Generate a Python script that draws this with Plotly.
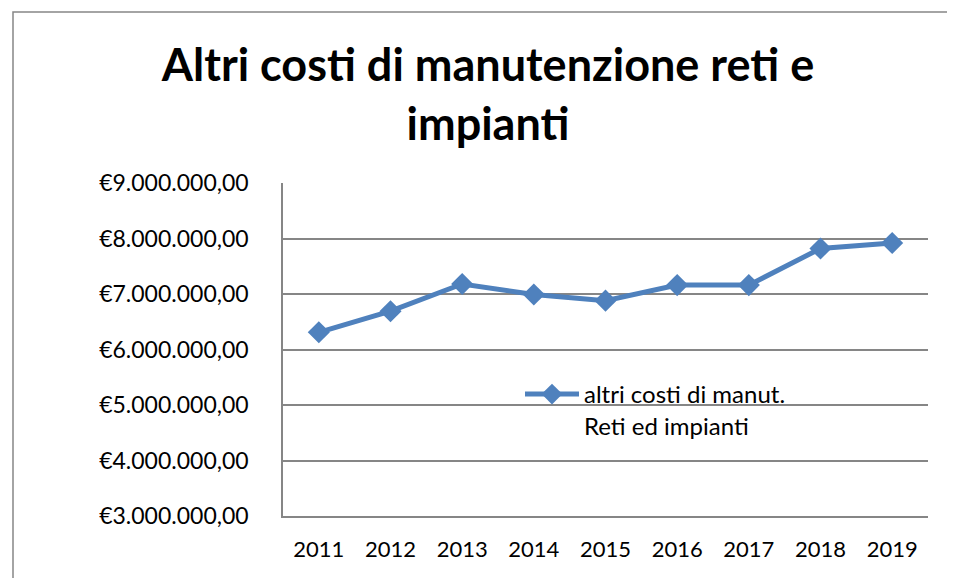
import plotly.graph_objects as go

years = ["2011", "2012", "2013", "2014", "2015", "2016", "2017", "2018", "2019"]
values = [6310000, 6690000, 7180000, 6990000, 6880000, 7160000, 7160000, 7820000, 7920000]
tick_vals = [3000000, 4000000, 5000000, 6000000, 7000000, 8000000, 9000000]
tick_text = ["€3.000.000,00", "€4.000.000,00", "€5.000.000,00", "€6.000.000,00",
             "€7.000.000,00", "€8.000.000,00", "€9.000.000,00"]
series_name = "altri costi di manut.<br>Reti ed impianti"
title_text = "<b>Altri costi di manutenzione reti e<br>impianti</b>"

# page body has an 8px margin; figure coordinates are screen - 8
OFF = 8
W, H = 955 - OFF, 578 - OFF
L, R, T, B = 283 - OFF, 27, 183 - OFF, 62
pw, ph = W - L - R, H - T - B

def px_x(p):
    return (p - OFF - L) / pw

def px_y(p):
    return (H - B - (p - OFF)) / ph

fig = go.Figure()
fig.add_trace(go.Scatter(
    x=years, y=values, mode="lines+markers", name=series_name,
    line=dict(color="#4F81BD", width=5),
    marker=dict(symbol="diamond", size=17, color="#4F81BD"),
))

fig.update_layout(
    width=W, height=H,
    margin=dict(l=L, r=R, t=T, b=B),
    paper_bgcolor="white", plot_bgcolor="white",
    font=dict(family="Lato", size=22, color="black"),
    title=dict(text=title_text, x=(488 - OFF) / W, xanchor="center", xref="container",
               y=1 - 73 / H, yanchor="top", yref="container",
               font=dict(family="Lato", size=45, color="black")),
    showlegend=True,
    legend=dict(x=px_x(520), y=px_y(372), xanchor="left", yanchor="top",
                bgcolor="rgba(0,0,0,0)", valign="top", itemwidth=54,
                font=dict(family="Lato", size=24, color="black")),
    xaxis=dict(type="category", range=[-0.5, 8.5], showgrid=False,
               showline=True, linecolor="#868686", linewidth=1.5,
               ticks="", tickfont=dict(size=22), ticklabelstandoff=13),
    yaxis=dict(range=[3000000, 9000000], tickvals=tick_vals, ticktext=tick_text,
               showgrid=True, gridcolor="#868686", gridwidth=1.5,
               showline=True, linecolor="#868686", linewidth=1.5,
               ticks="", tickfont=dict(size=23), ticklabelstandoff=28,
               zeroline=False),
    shapes=[dict(type="rect", xref="paper", yref="paper",
                 x0=px_x(13), x1=px_x(1000), y0=px_y(640), y1=px_y(12),
                 line=dict(color="#868686", width=1.5), layer="below")],
)

fig.write_html("out.html")
